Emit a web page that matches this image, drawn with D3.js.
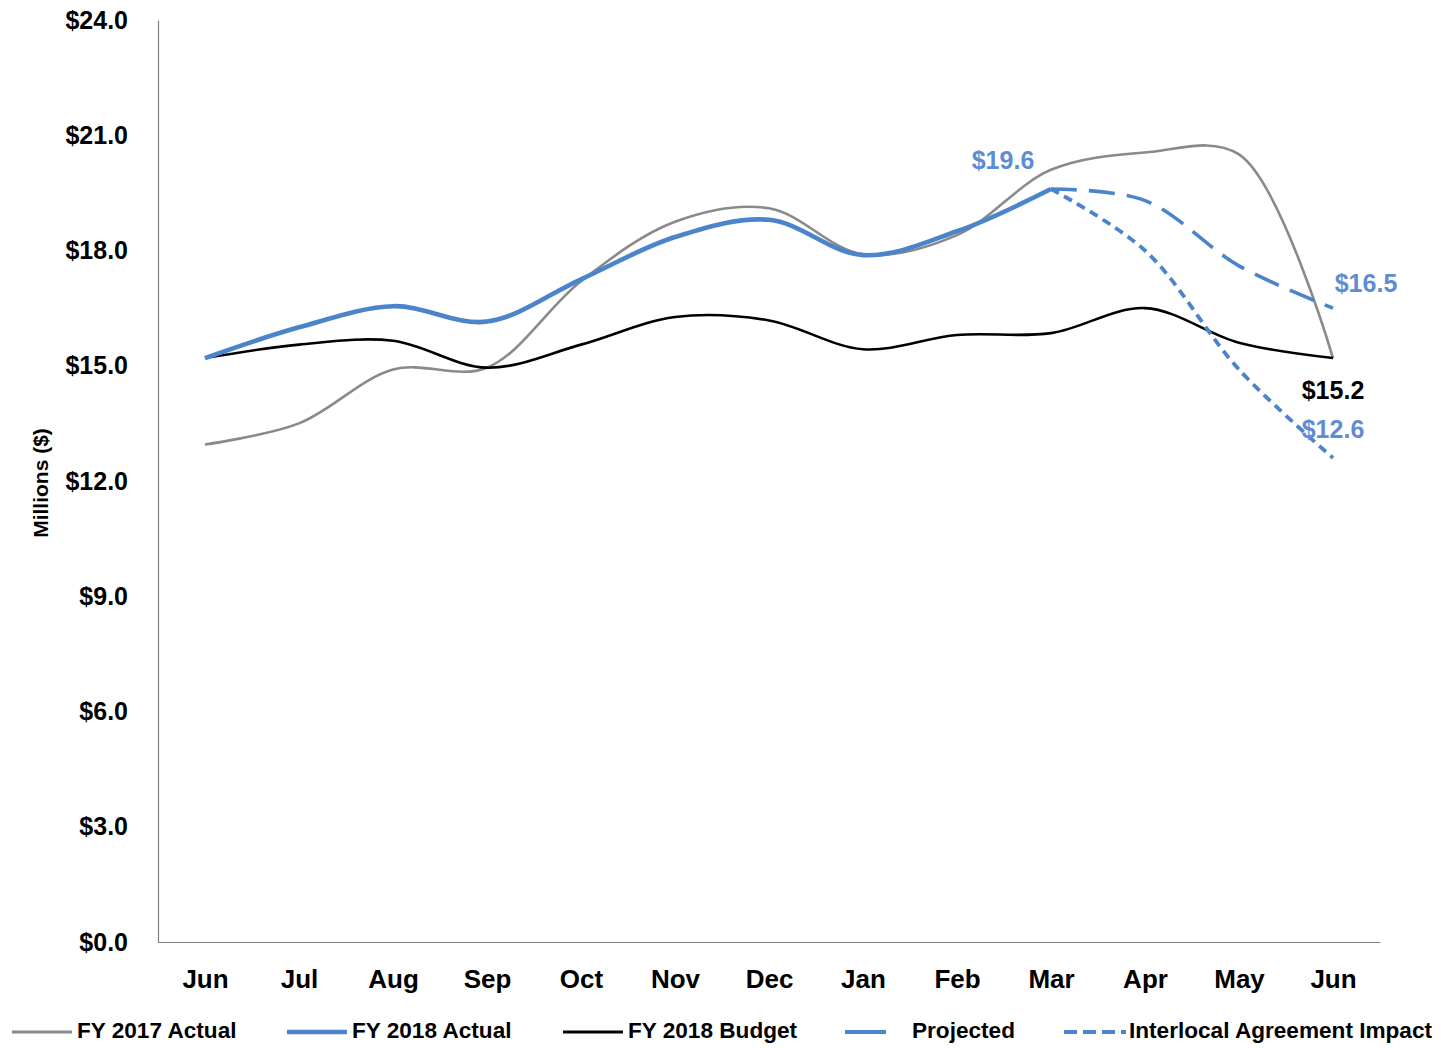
<!DOCTYPE html>
<html><head><meta charset="utf-8">
<script src="https://cdn.jsdelivr.net/npm/d3@7"></script>
<style>
body{margin:0;background:#fff;}
text{font-family:"Liberation Sans Narrow","Arial Narrow","Liberation Sans",Arial,sans-serif;font-weight:bold;}
</style></head><body>
<svg id="chart" width="1441" height="1048"></svg>
<script>
const months = ["Jun","Jul","Aug","Sep","Oct","Nov","Dec","Jan","Feb","Mar","Apr","May","Jun"];
const yTicks = [0,3,6,9,12,15,18,21,24];
const fy2017Actual = [12.95,13.5,14.9,14.95,17.2,18.75,19.1,17.9,18.4,20.1,20.55,20.5,15.2];
const fy2018Actual = [15.2,16.0,16.55,16.15,17.25,18.35,18.8,17.88,18.5,19.6,null,null,null];
const fy2018Budget = [15.2,15.55,15.65,14.95,15.55,16.27,16.18,15.43,15.8,15.85,16.5,15.6,15.2];
const projected = [null,null,null,null,null,null,null,null,null,19.6,19.3,17.6,16.5];
const interlocal = [null,null,null,null,null,null,null,null,null,19.6,18.0,14.9,12.6];
const legendNames = ["FY 2017 Actual","FY 2018 Actual","FY 2018 Budget","Projected","Interlocal Agreement Impact"];
const labels = [
  {series:"fy2018Actual", idx:9, text:"$19.6"},
  {series:"projected", idx:12, text:"$16.5"},
  {series:"budget", idx:12, text:"$15.2"},
  {series:"interlocal", idx:12, text:"$12.6"}
];

(function(){
const svg = d3.select("#chart");
const mL = 158, mR = 1380, mT = 20, mB = 942;
const x = d3.scalePoint().domain(d3.range(months.length)).range([mL,mR]).padding(0.5);
const y = d3.scaleLinear().domain([0,24]).range([mB,mT]);

const yAxis = svg.append("g").attr("transform",`translate(${mL},0)`)
  .call(d3.axisLeft(y).tickValues(yTicks).tickSize(0).tickPadding(30).tickFormat(d=>"$"+d.toFixed(1)));
yAxis.select(".domain").attr("stroke","#808080").attr("stroke-width",1.2);
yAxis.selectAll("text").attr("font-size",25).attr("fill","#000");

const xAxis = svg.append("g").attr("transform",`translate(0,${mB})`)
  .call(d3.axisBottom(x).tickSize(0).tickPadding(28).tickFormat(i=>months[i]));
xAxis.select(".domain").attr("stroke","#808080").attr("stroke-width",1.2);
xAxis.selectAll("text").attr("font-size",26).attr("fill","#000");

svg.append("text").attr("transform","translate(48,483) rotate(-90)")
  .attr("text-anchor","middle").attr("font-size",21).attr("fill","#000").text("Millions ($)");

const curve = d3.curveCatmullRom.alpha(0.5);
const blue = "#4C84CC";
const labelBlue = "#5E8DD2";
function line(data){
  return d3.line().defined(d=>d!=null).x((d,i)=>x(i)).y(d=>y(d)).curve(curve)(data);
}
const series = [
  {key:"fy2017", data:fy2017Actual, color:"#8A8A8A", w:2.6, dash:null},
  {key:"budget", data:fy2018Budget, color:"#000", w:2.6, dash:null},
  {key:"projected", data:projected, color:blue, w:3.6, dash:"26 12"},
  {key:"interlocal", data:interlocal, color:blue, w:3.8, dash:"9 6"},
  {key:"fy2018Actual", data:fy2018Actual, color:blue, w:4.6, dash:null}
];
const lineMap = {};
series.forEach(s=>{
  lineMap[s.key]=s;
  svg.append("path").attr("d",line(s.data)).attr("fill","none")
    .attr("stroke",s.color).attr("stroke-width",s.w)
    .attr("stroke-dasharray",s.dash).attr("stroke-linejoin","round");
});

const labelPos = {
  fy2018Actual:{dx:-48,dy:-27,color:labelBlue},
  projected:{dx:33,dy:-23,color:labelBlue},
  budget:{dx:0,dy:34,color:"#000"},
  interlocal:{dx:0,dy:-27,color:labelBlue}
};
labels.forEach(l=>{
  const s = lineMap[l.series];
  const p = labelPos[l.series];
  const yy = y(s.data[l.idx]) + p.dy;
  svg.append("text").attr("x",x(l.idx)+p.dx).attr("y",yy)
    .attr("text-anchor","middle").attr("dominant-baseline","middle")
    .attr("font-size",25).attr("fill",p.color).text(l.text);
});

const legY = 1032;
const leg = [
  {x1:12,x2:72,color:"#8A8A8A",w:3,dash:null,tx:77},
  {x1:287,x2:347,color:blue,w:4.5,dash:null,tx:352},
  {x1:563,x2:623,color:"#000",w:3,dash:null,tx:628},
  {x1:845,x2:886,color:blue,w:4,dash:null,tx:912},
  {x1:1064,x2:1126,color:blue,w:4,dash:"13 6",tx:1129}
];
leg.forEach((l,i)=>{
  svg.append("line").attr("x1",l.x1).attr("x2",l.x2).attr("y1",legY).attr("y2",legY)
    .attr("stroke",l.color).attr("stroke-width",l.w).attr("stroke-dasharray",l.dash);
  svg.append("text").attr("x",l.tx).attr("y",legY).attr("dominant-baseline","middle")
    .attr("font-size",22.6).attr("fill","#000").text(legendNames[i]);
});
})();
</script></body></html>
